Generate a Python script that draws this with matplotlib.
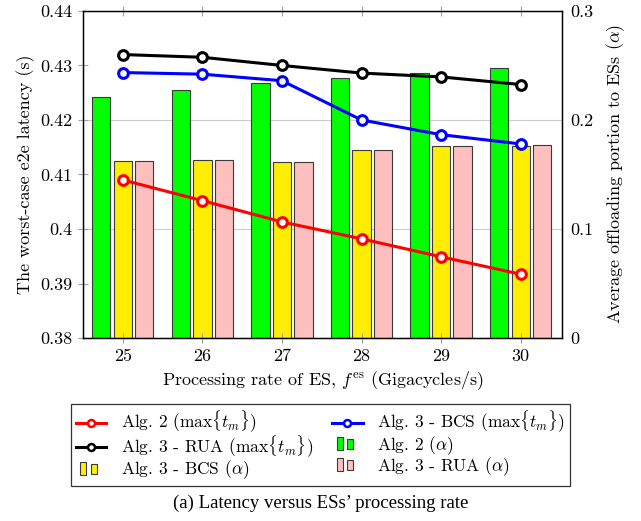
import matplotlib
matplotlib.use("Agg")
import matplotlib.pyplot as plt
import numpy as np
from matplotlib.legend_handler import HandlerBase
from matplotlib.patches import Rectangle
from matplotlib.lines import Line2D

plt.rcParams['font.family'] = ['cmr10', 'DejaVu Serif']
plt.rcParams['mathtext.fontset'] = 'cm'
plt.rcParams['axes.formatter.use_mathtext'] = True

# ---- data ----
rates = [25, 26, 27, 28, 29, 30]
lat_alg2 = [0.4090, 0.4052, 0.4013, 0.3982, 0.3949, 0.3917]
lat_bcs = [0.4287, 0.4284, 0.4272, 0.4200, 0.4173, 0.4156]
lat_rua = [0.4320, 0.4315, 0.4300, 0.4286, 0.4279, 0.4265]
alpha_alg2 = [0.2208, 0.2275, 0.2342, 0.2385, 0.2434, 0.2477]
alpha_bcs = [0.1626, 0.1635, 0.1617, 0.1726, 0.1757, 0.1763]
alpha_rua = [0.1626, 0.1635, 0.1617, 0.1726, 0.1757, 0.1766]
left_ticks = [0.38, 0.39, 0.40, 0.41, 0.42, 0.43, 0.44]
left_labels = ['0.38', '0.39', '0.4', '0.41', '0.42', '0.43', '0.44']
right_ticks = [0, 0.1, 0.2, 0.3]
right_labels = ['0', '0.1', '0.2', '0.3']

c_green = '#00ff00'
c_yellow = '#ffee00'
c_pink = '#ffbfbf'

fig = plt.figure(figsize=(6.41, 5.21), dpi=100)
ax = fig.add_axes([0.1295, 0.3512, 0.7473, 0.6278])
ax2 = ax.twinx()

x = np.array(rates, dtype=float)
w = 0.23
off = 0.27
ec = '#3a3a3a'
ax2.bar(x - off, alpha_alg2, w, color=c_green, edgecolor=ec, linewidth=0.8)
ax2.bar(x, alpha_bcs, w, color=c_yellow, edgecolor=ec, linewidth=0.8)
ax2.bar(x + off, alpha_rua, w, color=c_pink, edgecolor=ec, linewidth=0.8)
ax2.set_ylim(0, 0.3)
ax2.set_yticks(right_ticks)
ax2.set_yticklabels(right_labels)
ax2.grid(axis='y', color='#cccccc', linewidth=0.8)
ax2.set_axisbelow(True)
ax2.tick_params(axis='y', length=0, labelsize=13, pad=6)
ax2.set_ylabel(r'Average offloading portion to ESs ($\alpha$)', fontsize=13, labelpad=8)

ax.set_zorder(ax2.get_zorder() + 1)
ax.patch.set_visible(False)
lk = dict(linewidth=2.2, marker='o', markersize=7, markerfacecolor='white', markeredgewidth=2.2)
ax.plot(x, lat_alg2, color='#ff0000', **lk)
ax.plot(x, lat_bcs, color='#0000ff', **lk)
ax.plot(x, lat_rua, color='black', **lk)
ax.set_ylim(0.38, 0.44)
ax.set_xlim(24.5, 30.52)
ax.set_yticks(left_ticks)
ax.set_yticklabels(left_labels)
ax.set_xticks(rates)
ax.set_xticklabels([str(r) for r in rates])
ax.tick_params(axis='both', direction='inout', length=7, color='#a0a0a0', labelsize=13)
ax.tick_params(axis='x', top=True, pad=4)
ax.tick_params(axis='y', pad=4)
ax.set_ylabel('The worst-case e2e latency (s)', fontsize=13)
ax.set_xlabel(r'Processing rate of ES, $f^{\mathrm{es}}$ (Gigacycles/s)', fontsize=13, labelpad=4)
for s in ax.spines.values():
    s.set_linewidth(1.0)


class TwoBarHandler(HandlerBase):
    def __init__(self, color):
        super().__init__()
        self.color = color

    def create_artists(self, legend, orig_handle, xdescent, ydescent, width, height, fontsize, trans):
        bw = width * 0.2
        x0 = width * 0.15
        r1 = Rectangle((x0, -ydescent - height * 0.1), bw, height * 1.2,
                       facecolor=self.color, edgecolor=ec, linewidth=0.8, transform=trans)
        r2 = Rectangle((x0 + bw * 1.7, -ydescent), bw, height * 0.9,
                       facecolor=self.color, edgecolor=ec, linewidth=0.8, transform=trans)
        return [r1, r2]


mk = dict(marker='o', markersize=5, markerfacecolor='white', markeredgewidth=1.8, linewidth=2.2)
h_red = Line2D([], [], color='#ff0000', **mk)
h_blue = Line2D([], [], color='#0000ff', **mk)
h_black = Line2D([], [], color='black', **mk)
h_green = Rectangle((0, 0), 1, 1, color=c_green)
h_yellow = Rectangle((0, 0), 1, 1, color=c_yellow)
h_pink = Rectangle((0, 0), 1, 1, color=c_pink)

handles = [h_red, h_black, h_yellow, h_blue, h_green, h_pink]
labels = [r'Alg. 2 ($\max\{t_m\}$)', r'Alg. 3 - RUA ($\max\{t_m\}$)', r'Alg. 3 - BCS ($\alpha$)',
          r'Alg. 3 - BCS ($\max\{t_m\}$)', r'Alg. 2 ($\alpha$)', r'Alg. 3 - RUA ($\alpha$)']
leg = fig.legend(handles, labels, ncol=2, loc='upper center', bbox_to_anchor=(0.5, 0.2246),
                 fontsize=12.5, frameon=True, fancybox=False, edgecolor='#333333', framealpha=1,
                 handlelength=1.75, handleheight=0.6, handletextpad=0.85, columnspacing=1.1,
                 labelspacing=-0.08, borderpad=0.3, borderaxespad=0,
                 handler_map={h_green: TwoBarHandler(c_green), h_yellow: TwoBarHandler(c_yellow),
                              h_pink: TwoBarHandler(c_pink)})
leg.get_frame().set_linewidth(0.9)

fig.text(0.5, 0.034, "(a) Latency versus ESs\u2019 processing rate", ha='center', va='center',
         fontsize=13.5, family=['Liberation Serif', 'DejaVu Serif'])

fig.savefig('out.png', dpi=100)
